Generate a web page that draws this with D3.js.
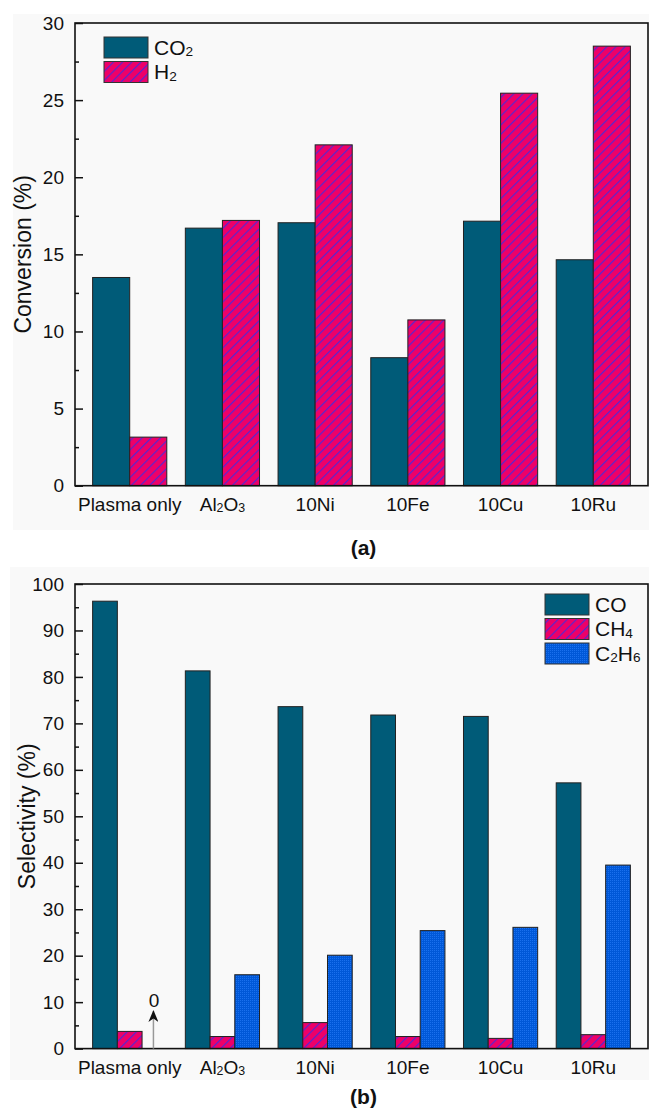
<!DOCTYPE html>
<html lang="en">
<head>
  <meta charset="UTF-8">
  <title>Conversion and selectivity</title>
  <style>
    body { margin: 0; background: #fff; }
    svg { display: block; font-family: "Liberation Sans", Arial, sans-serif; }
  </style>
</head>
<body>
  <svg width="649" height="1110"></svg>
  <script src="https://cdn.jsdelivr.net/npm/d3@7"></script>
  <script>
    // data ("_2" = subscript 2)
    var categories = ["Plasma only", "Al_2O_3", "10Ni", "10Fe", "10Cu", "10Ru"];

    var convKeys = ["CO_2", "H_2"];
    var convCO2 = [13.5, 16.7, 17.05, 8.3, 17.15, 14.65];
    var convH2 = [3.15, 17.2, 22.1, 10.75, 25.45, 28.5];
    var convTicks = [0, 5, 10, 15, 20, 25, 30];

    var selKeys = ["CO", "CH_4", "C_2H_6"];
    var selCO = [96.3, 81.3, 73.6, 71.8, 71.5, 57.2];
    var selCH4 = [3.7, 2.6, 5.6, 2.6, 2.2, 3.0];
    var selC2H6 = [0, 15.9, 20.1, 25.4, 26.1, 39.5];
    var selTicks = [0, 10, 20, 30, 40, 50, 60, 70, 80, 90, 100];

    var svg = d3.select("svg");
    var fills = { teal: "#005b78", pink: "url(#hatch)", blue: "url(#dots)" };

    // patterns
    var defs = svg.append("defs");
    var hatch = defs.append("pattern")
      .attr("id", "hatch").attr("patternUnits", "userSpaceOnUse")
      .attr("width", 6.5).attr("height", 6.5)
      .attr("patternTransform", "rotate(45)");
    hatch.append("rect").attr("width", 6.5).attr("height", 6.5).attr("fill", "#ee0068");
    hatch.append("line").attr("x1", 0.6).attr("y1", 0).attr("x2", 0.6).attr("y2", 6.5)
      .attr("stroke", "#4b2ad8").attr("stroke-width", 1.1);

    var dots = defs.append("pattern")
      .attr("id", "dots").attr("patternUnits", "userSpaceOnUse")
      .attr("width", 2).attr("height", 2);
    dots.append("rect").attr("width", 2).attr("height", 2).attr("fill", "#0058d8");
    dots.append("rect").attr("width", 1).attr("height", 1).attr("fill", "#1a70ee");

    // writes "Al_2O_3" as text with subscripts
    function chemText(sel, str, size) {
      var parts = str.split(/(_\d)/).filter(function (s) { return s.length; });
      var shifted = false;
      parts.forEach(function (p) {
        if (p[0] === "_") {
          sel.append("tspan").attr("font-size", size * 0.65).attr("dy", shifted ? 0 : 1.5).text(p[1]);
          shifted = true;
        } else {
          sel.append("tspan").attr("font-size", size).attr("dy", shifted ? -1.5 : 0).text(p);
          shifted = false;
        }
      });
    }

    function panel(opt) {
      var left = 75, right = 648;
      svg.append("rect")
        .attr("x", opt.bg[0]).attr("y", opt.bg[1])
        .attr("width", opt.bg[2]).attr("height", opt.bg[3])
        .attr("fill", "#f9f9f9");

      var x = d3.scaleBand().domain(categories).range([left, right])
        .paddingInner(0.2).paddingOuter(0.19);
      var xs = d3.scaleBand().domain(opt.keys).range([0, x.bandwidth()]);
      var y = d3.scaleLinear().domain(opt.domain).range([opt.bottom, opt.top]);

      var rows = [];
      categories.forEach(function (c, i) {
        opt.keys.forEach(function (k, j) {
          rows.push({ cat: c, key: k, value: opt.series[j][i], fill: opt.fills[j] });
        });
      });

      var g = svg.append("g");
      g.selectAll("rect.bar")
        .data(rows.filter(function (d) { return d.value > 0; }))
        .enter().append("rect")
        .attr("class", "bar")
        .attr("x", function (d) { return x(d.cat) + xs(d.key); })
        .attr("y", function (d) { return y(d.value); })
        .attr("width", xs.bandwidth())
        .attr("height", function (d) { return y(0) - y(d.value); })
        .attr("fill", function (d) { return d.fill; })
        .attr("stroke", "#222")
        .attr("stroke-width", 1);

      // minor ticks
      var step = opt.ticks[1] - opt.ticks[0];
      var minor = opt.ticks.slice(0, -1).map(function (t) { return t + step / 2; });
      g.append("g").attr("transform", "translate(" + left + ",0)")
        .call(d3.axisLeft(y).tickValues(minor).tickSize(-4).tickFormat(""))
        .call(function (a) { a.select(".domain").remove(); })
        .selectAll("line").attr("stroke", "#111").attr("stroke-width", 1.5);

      var ay = g.append("g").attr("transform", "translate(" + left + ",0)")
        .call(d3.axisLeft(y).tickValues(opt.ticks).tickSize(-8).tickPadding(11));
      ay.select(".domain").remove();
      ay.selectAll("line").attr("stroke", "#111").attr("stroke-width", 1.5);
      ay.selectAll("text").attr("font-size", 19).attr("fill", "#111")
        .attr("font-family", "Liberation Sans, Arial, sans-serif");

      // frame
      g.append("rect")
        .attr("x", left).attr("y", opt.top)
        .attr("width", right - left).attr("height", opt.bottom - opt.top)
        .attr("fill", "none").attr("stroke", "#111").attr("stroke-width", 1.6);

      // category labels
      categories.forEach(function (c) {
        var t = g.append("text")
          .attr("x", x(c) + x.bandwidth() / 2)
          .attr("y", opt.bottom + 25)
          .attr("text-anchor", "middle").attr("fill", "#111");
        chemText(t, c, 19);
      });

      // axis title
      g.append("text")
        .attr("transform", "translate(" + opt.titleX + "," + (opt.top + opt.bottom) / 2 + ") rotate(-90)")
        .attr("text-anchor", "middle").attr("dy", "0.35em")
        .attr("font-size", 23).attr("fill", "#111")
        .text(opt.title);

      // panel tag
      g.append("text")
        .attr("x", (left + right) / 2 + 2).attr("y", opt.tagY)
        .attr("text-anchor", "middle").attr("font-size", 21).attr("font-weight", "bold")
        .attr("fill", "#111").text(opt.tag);

      // legend
      opt.keys.forEach(function (k, j) {
        var ly = opt.legend[1] + j * 24.5;
        g.append("rect")
          .attr("x", opt.legend[0]).attr("y", ly)
          .attr("width", 44).attr("height", 21)
          .attr("fill", opt.fills[j]).attr("stroke", "#333").attr("stroke-width", 1);
        var t = g.append("text")
          .attr("x", opt.legend[0] + 50).attr("y", ly + 17.5).attr("fill", "#111");
        chemText(t, k, 21);
      });

      return { x: x, xs: xs, y: y, g: g };
    }

    panel({
      bg: [13, 14, 636, 516],
      top: 23, bottom: 485.7, domain: [0, 30], ticks: convTicks,
      keys: convKeys, series: [convCO2, convH2], fills: [fills.teal, fills.pink],
      title: "Conversion (%)", titleX: 23, tag: "(a)", tagY: 555,
      legend: [104, 37]
    });

    var b = panel({
      bg: [10, 567, 639, 513],
      top: 584, bottom: 1048.6, domain: [0, 100], ticks: selTicks,
      keys: selKeys, series: [selCO, selCH4, selC2H6], fills: [fills.teal, fills.pink, fills.blue],
      title: "Selectivity (%)", titleX: 27, tag: "(b)", tagY: 1104,
      legend: [545, 594]
    });

    // arrow marking the zero C2H6 value
    defs.append("marker").attr("id", "head")
      .attr("viewBox", "0 0 12 10").attr("refX", 11).attr("refY", 5)
      .attr("markerWidth", 13).attr("markerHeight", 10).attr("markerUnits", "userSpaceOnUse")
      .attr("orient", "auto")
      .append("path").attr("d", "M0,0 L12,5 L0,10 L3.5,5 Z").attr("fill", "#111");
    selC2H6.forEach(function (v, i) {
      if (v !== 0) return;
      var cx = b.x(categories[i]) + b.xs("C_2H_6") + b.xs.bandwidth() / 2 - 1;
      b.g.append("line")
        .attr("x1", cx).attr("x2", cx)
        .attr("y1", b.y(0)).attr("y2", b.y(8.1))
        .attr("stroke", "#999").attr("stroke-width", 1.5)
        .attr("marker-end", "url(#head)");
      b.g.append("text")
        .attr("x", cx + 0.5).attr("y", b.y(8.9))
        .attr("text-anchor", "middle").attr("font-size", 19).attr("fill", "#111")
        .text("0");
    });
  </script>
</body>
</html>
